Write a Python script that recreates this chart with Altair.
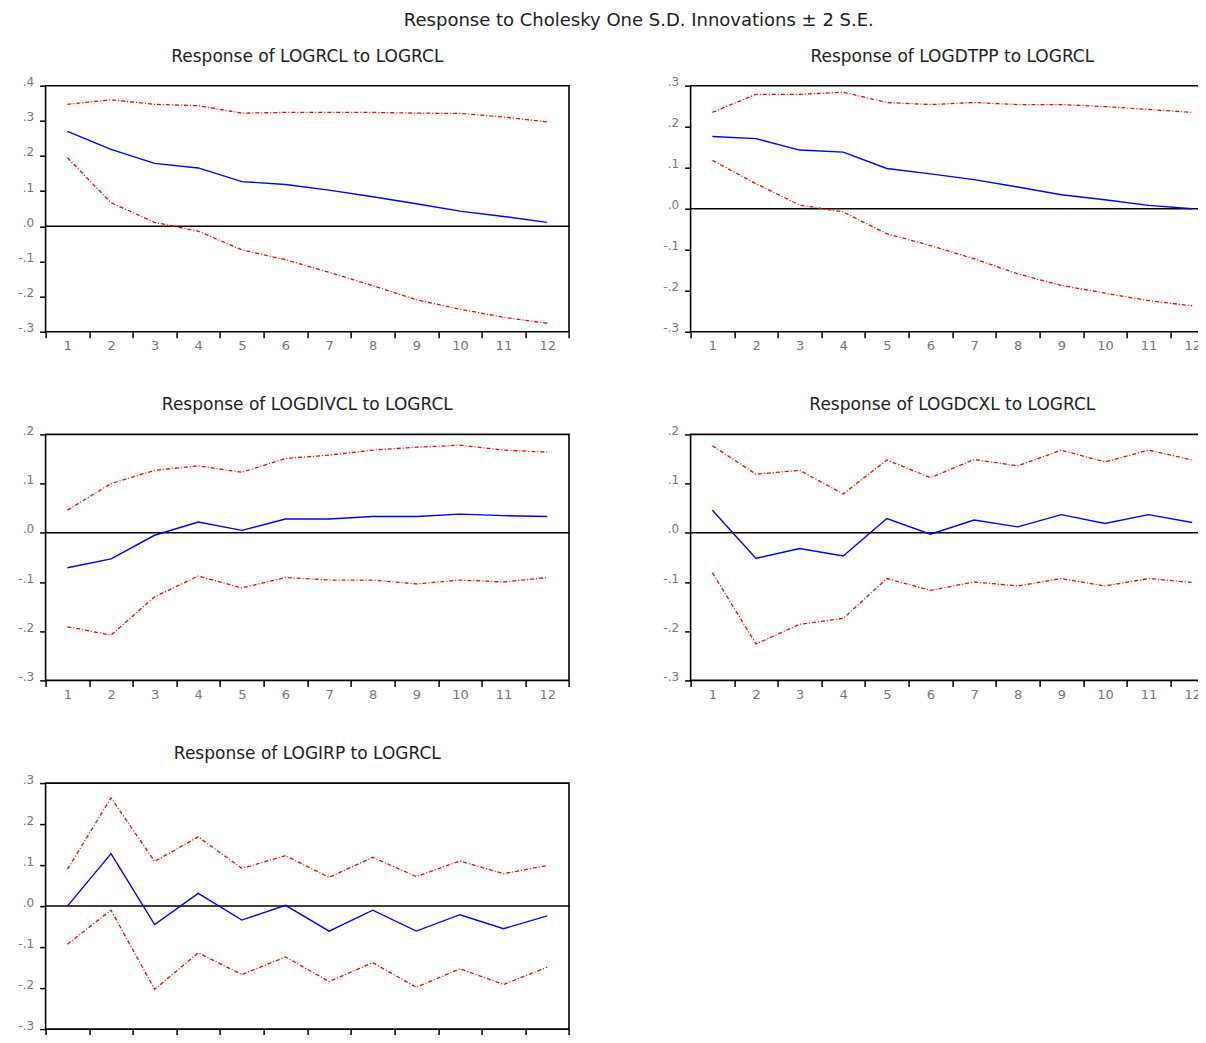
import altair as alt
import pandas as pd

periods = list(range(1, 13))

main_title = "Response to Cholesky One S.D. Innovations \u00b1 2 S.E."

titles = [
    "Response of LOGRCL to LOGRCL",
    "Response of LOGDTPP to LOGRCL",
    "Response of LOGDIVCL to LOGRCL",
    "Response of LOGDCXL to LOGRCL",
    "Response of LOGIRP to LOGRCL",
]

# Panel 1: LOGRCL
resp_1 = [0.270, 0.219, 0.179, 0.166, 0.127, 0.119, 0.103, 0.084, 0.064, 0.043, 0.028, 0.011]
upper_1 = [0.347, 0.360, 0.347, 0.343, 0.322, 0.324, 0.324, 0.324, 0.322, 0.321, 0.311, 0.297]
lower_1 = [0.195, 0.067, 0.011, -0.014, -0.067, -0.095, -0.131, -0.169, -0.209, -0.236, -0.259, -0.276]

# Panel 2: LOGDTPP
resp_2 = [0.176, 0.171, 0.143, 0.138, 0.098, 0.085, 0.071, 0.053, 0.034, 0.022, 0.008, 0.000]
upper_2 = [0.235, 0.279, 0.279, 0.284, 0.259, 0.254, 0.259, 0.254, 0.254, 0.249, 0.242, 0.235]
lower_2 = [0.118, 0.061, 0.009, -0.008, -0.061, -0.090, -0.122, -0.159, -0.187, -0.206, -0.224, -0.237]

# Panel 3: LOGDIVCL
resp_3 = [-0.071, -0.053, -0.005, 0.022, 0.005, 0.028, 0.028, 0.033, 0.033, 0.038, 0.035, 0.033]
upper_3 = [0.046, 0.100, 0.127, 0.136, 0.123, 0.151, 0.158, 0.168, 0.174, 0.178, 0.168, 0.164]
lower_3 = [-0.191, -0.208, -0.130, -0.088, -0.112, -0.091, -0.096, -0.096, -0.104, -0.096, -0.100, -0.091]

# Panel 4: LOGDCXL
resp_4 = [0.046, -0.052, -0.032, -0.047, 0.029, -0.003, 0.026, 0.012, 0.037, 0.019, 0.037, 0.021]
upper_4 = [0.177, 0.119, 0.127, 0.079, 0.148, 0.112, 0.149, 0.136, 0.168, 0.144, 0.168, 0.148]
lower_4 = [-0.081, -0.226, -0.186, -0.174, -0.093, -0.117, -0.100, -0.108, -0.093, -0.108, -0.093, -0.101]

# Panel 5: LOGIRP
resp_5 = [0.000, 0.128, -0.045, 0.031, -0.034, 0.002, -0.061, -0.010, -0.061, -0.021, -0.055, -0.024]
upper_5 = [0.090, 0.264, 0.109, 0.169, 0.092, 0.123, 0.070, 0.119, 0.072, 0.110, 0.079, 0.099]
lower_5 = [-0.093, -0.010, -0.203, -0.114, -0.167, -0.124, -0.184, -0.138, -0.198, -0.153, -0.191, -0.149]

y_domains = [[-0.3, 0.4], [-0.3, 0.3], [-0.3, 0.2], [-0.3, 0.2], [-0.3, 0.3]]
y_ticks = [
    [-0.3, -0.2, -0.1, 0.0, 0.1, 0.2, 0.3, 0.4],
    [-0.3, -0.2, -0.1, 0.0, 0.1, 0.2, 0.3],
    [-0.3, -0.2, -0.1, 0.0, 0.1, 0.2],
    [-0.3, -0.2, -0.1, 0.0, 0.1, 0.2],
    [-0.3, -0.2, -0.1, 0.0, 0.1, 0.2, 0.3],
]
x_ticks = [p - 0.5 for p in periods] + [12.5]

W = 523.4
H = 246
FONT = "DejaVu Sans"
LABEL_COLOR = "#777777"


def make_panel(title, resp, upper, lower, ydom, yvals):
    df_resp = pd.DataFrame({"period": periods, "value": resp})
    df_band = pd.DataFrame({
        "period": periods + periods,
        "value": upper + lower,
        "band": ["upper"] * 12 + ["lower"] * 12,
    })
    df_zero = pd.DataFrame({"value": [0.0]})

    x = alt.X(
        "period:Q",
        scale=alt.Scale(domain=[0.5, 12.5], nice=False, zero=False),
        axis=alt.Axis(
            values=x_ticks,
            labelExpr="datum.value > 12 ? '' : format(datum.value + 0.5, 'd')",
            labelOffset=W / 24,
            labelFlush=False,
            labelOverlap=False,
            tickSize=6,
            labelPadding=2,
            labelFontSize=13,
            title=None,
        ),
    )
    y = alt.Y(
        "value:Q",
        scale=alt.Scale(domain=ydom, nice=False, zero=False),
        axis=alt.Axis(
            values=yvals,
            labelExpr="datum.value == 0 ? '.0' : (datum.value < 0 ? '-.' : '.') + format(abs(datum.value) * 10, '.0f')",
            labelOverlap=False,
            labelFlush=False,
            labelBaseline="alphabetic",
            tickSize=6,
            labelPadding=6,
            labelFontSize=12,
            title=None,
        ),
    )

    zero = alt.Chart(df_zero).mark_rule(color="black", strokeWidth=1.5).encode(y=y)
    band = alt.Chart(df_band).mark_line(
        color="#FF0000", strokeWidth=1.3, strokeDash=[4, 2, 1, 2]
    ).encode(x=x, y=y, detail="band:N")
    line = alt.Chart(df_resp).mark_line(color="#0000FF", strokeWidth=1.4).encode(x=x, y=y)

    return alt.layer(zero, band, line).properties(
        width=W,
        height=H,
        title=alt.TitleParams(
            text=title,
            anchor="middle",
            baseline="alphabetic",
            offset=3,
            dy=6,
            fontSize=17,
            font=FONT,
            fontWeight="normal",
            color="#222222",
        ),
    )


data = [
    (resp_1, upper_1, lower_1),
    (resp_2, upper_2, lower_2),
    (resp_3, upper_3, lower_3),
    (resp_4, upper_4, lower_4),
    (resp_5, upper_5, lower_5),
]

panels = [
    make_panel(titles[i], d[0], d[1], d[2], y_domains[i], y_ticks[i])
    for i, d in enumerate(data)
]

PL = 37.6
PT = 77.7
chart = alt.concat(
    *panels,
    columns=2,
    spacing={"row": 102.7, "column": 121},
    bounds="flush",
    title=alt.TitleParams(
        text=main_title,
        anchor="middle",
        frame="bounds",
        baseline="alphabetic",
        offset=3,
        dx=12,
        fontSize=18,
        font=FONT,
        fontWeight="normal",
        color="#222222",
    ),
).properties(
    autosize=alt.AutoSizeParams(type="none"),
    padding={"left": PL, "top": PT, "right": 1190 - PL, "bottom": 1027 - PT},
).configure_view(
    stroke="black", strokeWidth=1.6
).configure_axis(
    domain=False,
    grid=False,
    tickColor="black",
    tickWidth=1.5,
    labelColor=LABEL_COLOR,
    labelFont=FONT,
)

chart.save("out.html", embed_options={"renderer": "svg", "actions": False})
